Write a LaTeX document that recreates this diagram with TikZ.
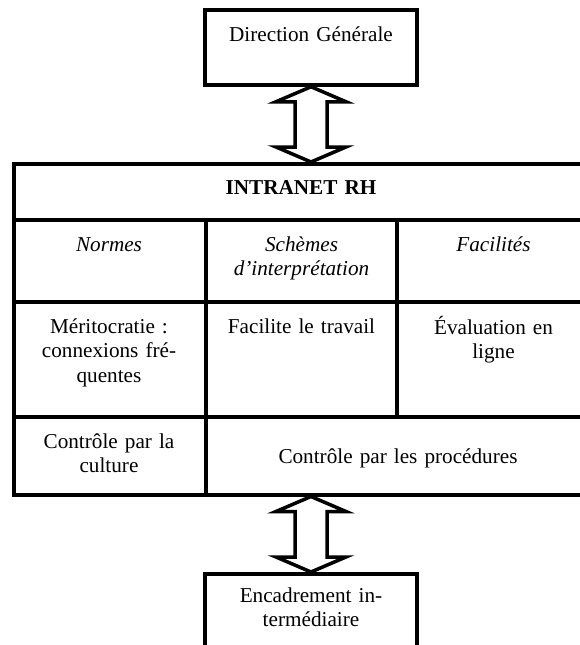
\documentclass[tikz,border=0pt]{standalone}
\usepackage{fontspec}
\setmainfont{Liberation Serif}
\usetikzlibrary{calc,positioning}

\tikzset{
  frame/.style={draw, line width=3.5pt, inner sep=0pt},
  grid/.style={line width=3.5pt},
  hollow/.style={draw, line width=3.5pt, line join=miter},
  cell/.style={anchor=north, inner sep=0pt, text width=180pt, align=center,
    execute at begin node=\strut},
}

\begin{document}
\begin{tikzpicture}[x=1pt, y=-1pt, font=\fontsize{21.2}{24.5}\selectfont]

\useasboundingbox (0,0) rectangle (580,645);
\clip (0,0) rectangle (580,645);

% Boxes
\node[frame, minimum width=212pt, minimum height=75pt] (dg) at (311,47.5) {};
\node[frame, minimum width=212pt, minimum height=110pt, anchor=north] (enc) at (311,572) {};

% Table frame
\node[frame, minimum width=578pt, minimum height=331pt, anchor=north west] (tab) at (12,162) {};

% Table rules
\draw[grid] (12,220) -- (590,220);
\draw[grid] (12,302) -- (590,302);
\draw[grid] (12,417) -- (590,417);
\draw[grid] (206,220) -- (206,493);
\draw[grid] (397,220) -- (397,417);

% Arrow ends
\coordinate (top) at (dg.south |- tab.north);
\coordinate (bot) at (enc.north |- tab.south);

% Double arrow: direction -- intranet
\draw[hollow] (dg.south) -- ++(35,15) -- ++(-19,0) -- ($(top)+(16,-15)$) -- ++(19,0)
  -- (top) -- ++(-35,-15) -- ++(19,0) -- ($(dg.south)+(-16,15)$) -- ++(-19,0) -- cycle;

% Double arrow: intranet -- encadrement
\draw[hollow] (bot) -- ++(35,15) -- ++(-19,0) -- ($(enc.north)+(16,-15)$) -- ++(19,0)
  -- (enc.north) -- ++(-35,-15) -- ++(19,0) -- ($(bot)+(-16,15)$) -- ++(-19,0) -- cycle;

% Box texts
\node[cell] (dgtext) at (311,23.85) {Direction Générale};
\node[cell] (enctext) at (311,584.85) {Encadrement in-\\termédiaire};

% Header
\node[cell, text width=400pt] (intra) at (301,176.85) {\bfseries INTRANET RH};

% Column heads
\node[cell] (normes) at (109,233.85) {\itshape Normes};
\node[cell] (schemes) at (301.5,233.85) {\itshape Schèmes\\d’interprétation};
\node[cell] (facil) at (493.5,233.85) {\itshape Facilités};

% Row cells
\node[cell] (merito) at (109,315.85) {Méritocratie :\\connexions fré-\\quentes};
\node[cell] (travail) at (301.5,315.85) {Facilite le travail};
\node[cell] (evalu) at (493.5,315.85) {Évaluation en\\ligne};

% Bottom row
\node[cell] (culture) at (109,430.85) {Contrôle par la\\culture};
\node[cell, anchor=base, text width=360pt] (proced) at (398,463) {Contrôle par les procédures};

\end{tikzpicture}
\end{document}
